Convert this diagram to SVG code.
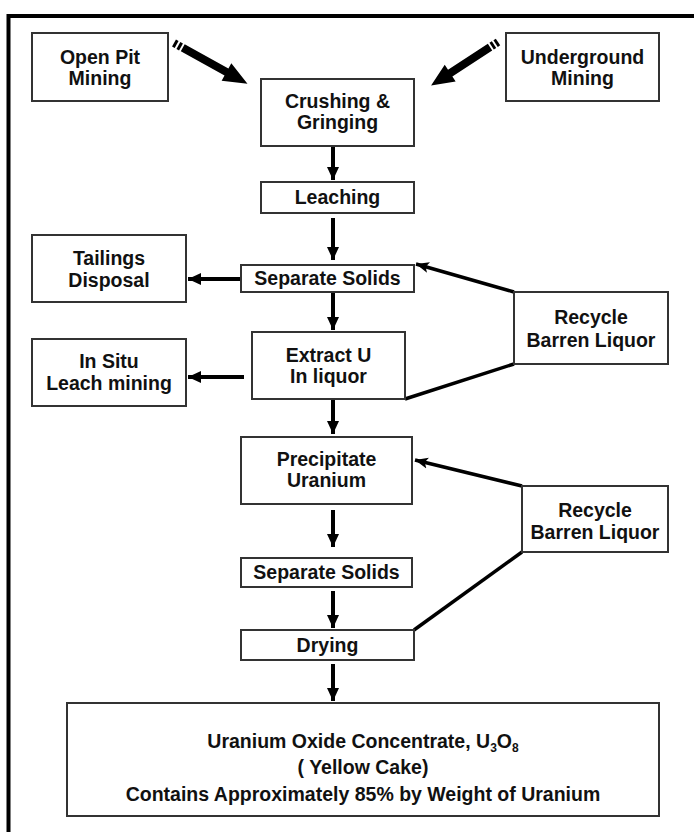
<svg xmlns="http://www.w3.org/2000/svg" width="694" height="832" viewBox="0 0 694 832">
<style>
.box{fill:#fff;stroke:#333;stroke-width:2}
.t{font-family:"Liberation Sans",Arial,sans-serif;font-weight:bold;font-size:19.5px;fill:#111;text-anchor:middle}
.f{font-family:"Liberation Sans",Arial,sans-serif;font-weight:bold;font-size:19.5px;fill:#111;text-anchor:middle}
.c{stroke:#000;stroke-width:4;fill:none}
.r{stroke:#000;stroke-width:3.5;fill:none}
</style>
<defs>
<marker id="ah" markerUnits="userSpaceOnUse" markerWidth="14" markerHeight="14" viewBox="0 0 14 14" refX="13" refY="7" orient="auto"><path d="M0,1 L13,7 L0,13 z" fill="#000"/></marker>
<marker id="ah2" markerUnits="userSpaceOnUse" markerWidth="14" markerHeight="14" viewBox="0 0 14 14" refX="13" refY="7" orient="auto"><path d="M0,1.5 L13,7 L0,12.5 L3,7 z" fill="#000"/></marker>
<g id="fat">
<rect x="0" y="-4" width="3" height="8"/>
<rect x="5" y="-4" width="3" height="8"/>
<polygon points="10,-4 60,-4 60,-10 84,0 60,10 60,4 10,4"/>
</g>
</defs>
<rect width="694" height="832" fill="#fff"/>
<path d="M8.5,832 V16 H694" fill="none" stroke="#000" stroke-width="4"/>

<g id="connectors">
<use href="#fat" transform="translate(174,43) rotate(29) scale(1.0,1)"/>
<use href="#fat" transform="translate(498,42) rotate(147) scale(0.95,1)"/>
<line class="c" x1="333" y1="146" x2="333" y2="180" marker-end="url(#ah)"/>
<line class="c" x1="333" y1="218" x2="333" y2="260" marker-end="url(#ah)"/>
<line class="c" x1="333" y1="293" x2="333" y2="330" marker-end="url(#ah)"/>
<line class="c" x1="333" y1="400" x2="333" y2="434" marker-end="url(#ah)"/>
<line class="c" x1="333" y1="510" x2="333" y2="547" marker-end="url(#ah)"/>
<line class="c" x1="333" y1="591" x2="333" y2="628" marker-end="url(#ah)"/>
<line class="c" x1="333" y1="664" x2="333" y2="701" marker-end="url(#ah)"/>
<line class="c" x1="241" y1="279" x2="188" y2="279" marker-end="url(#ah)"/>
<line class="c" x1="244" y1="377" x2="188" y2="377" marker-end="url(#ah)"/>
<line class="r" x1="514" y1="292" x2="416" y2="264" marker-end="url(#ah2)"/>
<line class="r" x1="522" y1="486" x2="415" y2="460" marker-end="url(#ah2)"/>
<line class="r" x1="405" y1="399" x2="514" y2="364"/>
<line class="r" x1="414" y1="630" x2="522" y2="552"/>
</g>

<g id="open-pit"><rect class="box" x="32" y="33" width="136" height="68"/><text class="t" x="100" y="64">Open Pit</text><text class="t" x="100" y="85">Mining</text></g>
<g id="underground"><rect class="box" x="506" y="33" width="153" height="68"/><text class="t" x="582.5" y="64">Underground</text><text class="t" x="582.5" y="85">Mining</text></g>
<g id="crushing"><rect class="box" x="261" y="79" width="153" height="67"/><text class="t" x="337.5" y="108">Crushing &amp;</text><text class="t" x="337.5" y="129">Gringing</text></g>
<g id="leaching"><rect class="box" x="261" y="182" width="153" height="31"/><text class="t" x="337.5" y="204">Leaching</text></g>
<g id="tailings"><rect class="box" x="32" y="235" width="154" height="67"/><text class="t" x="109" y="265">Tailings</text><text class="t" x="109" y="287">Disposal</text></g>
<g id="separate1"><rect class="box" x="241" y="265" width="173" height="27"/><text class="t" x="327.5" y="285">Separate Solids</text></g>
<g id="extract"><rect class="box" x="252" y="332" width="153" height="67"/><text class="t" x="328.5" y="362">Extract U</text><text class="t" x="328.5" y="383">In liquor</text></g>
<g id="insitu"><rect class="box" x="32" y="339" width="154" height="67"/><text class="t" x="109" y="368">In Situ</text><text class="t" x="109" y="390">Leach mining</text></g>
<g id="recycle1"><rect class="box" x="514" y="292" width="154" height="72"/><text class="t" x="591" y="324">Recycle</text><text class="t" x="591" y="347">Barren Liquor</text></g>
<g id="precipitate"><rect class="box" x="241" y="437" width="171" height="67"/><text class="t" x="326.5" y="466">Precipitate</text><text class="t" x="326.5" y="487">Uranium</text></g>
<g id="recycle2"><rect class="box" x="522" y="486" width="146" height="66"/><text class="t" x="595" y="517">Recycle</text><text class="t" x="595" y="539">Barren Liquor</text></g>
<g id="separate2"><rect class="box" x="241" y="558" width="171" height="29"/><text class="t" x="326.5" y="579">Separate Solids</text></g>
<g id="drying"><rect class="box" x="241" y="630" width="173" height="30"/><text class="t" x="327.5" y="652">Drying</text></g>
<g id="yellowcake"><rect class="box" x="67" y="703" width="592" height="113"/>
<text class="f" x="363" y="748">Uranium Oxide Concentrate, U<tspan font-size="12" dy="4">3</tspan><tspan dy="-4">O</tspan><tspan font-size="12" dy="4">8</tspan></text>
<text class="f" x="363" y="774">( Yellow Cake)</text>
<text class="f" x="363" y="801">Contains Approximately 85% by Weight of Uranium</text>
</g>
</svg>
